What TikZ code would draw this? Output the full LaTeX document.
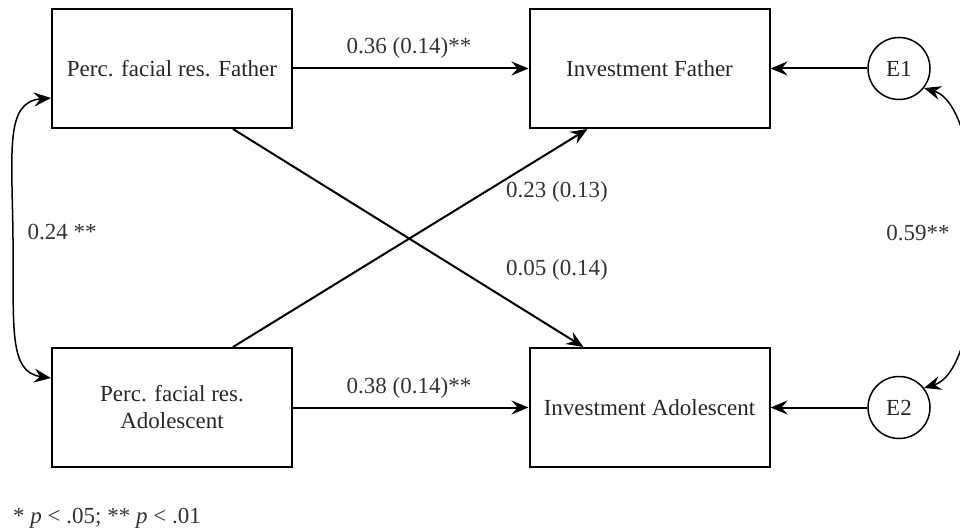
\documentclass[tikz,border=0pt]{standalone}
\usepackage{fontspec}
\setmainfont{Liberation Serif}
\usetikzlibrary{arrows.meta,calc}
\begin{document}
\begin{tikzpicture}[x=1pt,y=-1pt,
  box/.style={draw, line width=2pt, minimum width=240pt, minimum height=119pt, inner sep=0pt, align=center, font=\fontsize{23}{27}\selectfont, text=black!85},
  err/.style={draw, circle, line width=1.5pt, minimum size=62pt, inner sep=0pt, font=\fontsize{23}{27}\selectfont, text=black!85},
  lbl/.style={font=\fontsize{23}{27}\selectfont, text=black!80, inner sep=0pt},
  conn/.style={line width=2pt, -{Stealth[length=17pt,width=14pt,inset=6pt]}},
  cov/.style={line width=1.5pt, {Stealth[length=17pt,width=14pt,inset=6pt]}-{Stealth[length=17pt,width=14pt,inset=6pt]}}]
\useasboundingbox (0,0) rectangle (960,532);
\node[box] (b1) at (172,68.5) {Perc. facial res. Father};
\node[box] (b2) at (649.5,68.5) {Investment Father};
\node[box] (b3) at (172,407.5) {Perc. facial res.\\Adolescent};
\node[box] (b4) at (649.5,407.5) {Investment Adolescent};
\node[err] (e1) at (899,68.5) {E1};
\node[err] (e2) at (899,407.5) {E2};
\draw[conn] (b1.east) -- (b2.west);
\draw[conn] (b3.east) -- (b4.west);
\draw[conn] (e1.west) -- (b2.east);
\draw[conn] (e2.west) -- (b4.east);
\draw[conn] ([xshift=61pt]b1.south) -- ([xshift=-66pt]b4.north);
\draw[conn] ([xshift=61pt]b3.north) -- ([xshift=-62pt]b2.south);
\coordinate (l1) at ([yshift=-29.5pt]b1.west);
\coordinate (l2) at ([yshift=29.5pt]b3.west);
\draw[cov] (l1) .. controls (5,102) and (12,150) .. (13,238) .. controls (14,326) and (8,372) .. (l2);
\draw[cov] (e1.-38) .. controls (990,108) and (990,368) .. (e2.38);
\node[lbl] (t1) at (409,48) {0.36 (0.14)**};
\node[lbl] (t2) at (409,388) {0.38 (0.14)**};
\node[lbl] (t3) at (557,192) {0.23 (0.13)};
\node[lbl] (t4) at (557,270) {0.05 (0.14)};
\node[lbl] (t5) at (62,232) {0.24 **};
\node[lbl] (t6) at (918,233) {0.59**};
\node[lbl, anchor=base west] (fn) at (13,523) {* \textit{p} < .05; ** \textit{p} < .01};
\end{tikzpicture}
\end{document}
